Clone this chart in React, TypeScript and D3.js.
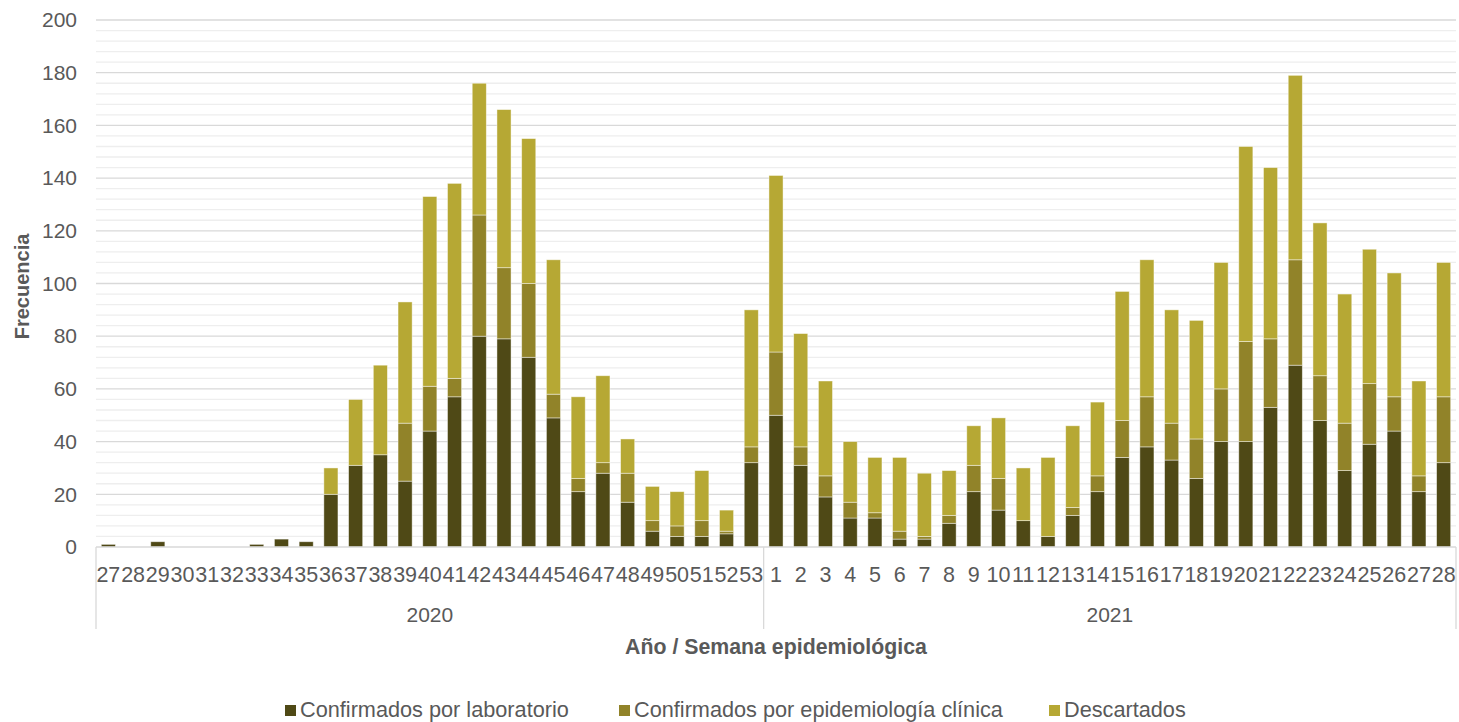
import * as d3 from "d3";
import React, { useEffect, useRef } from "react";

const weeks2020 = ["27", "28", "29", "30", "31", "32", "33", "34", "35", "36", "37", "38", "39", "40", "41", "42", "43", "44", "45", "46", "47", "48", "49", "50", "51", "52", "53"];
const weeks2021 = ["1", "2", "3", "4", "5", "6", "7", "8", "9", "10", "11", "12", "13", "14", "15", "16", "17", "18", "19", "20", "21", "22", "23", "24", "25", "26", "27", "28"];
const years = ["2020", "2021"];

// confirmados por laboratorio
const laboratorio = [
  1, 0, 2, 0, 0, 0, 1, 3, 2, 20, 31, 35, 25, 44, 57, 80, 79, 72, 49, 21, 28, 17, 6, 4, 4, 5, 32,
  50, 31, 19, 11, 11, 3, 3, 9, 21, 14, 10, 4, 12, 21, 34, 38, 33, 26, 40, 40, 53, 69, 48, 29, 39, 44, 21, 32,
];
// confirmados por epidemiologia clinica
const epidemiologia = [
  0, 0, 0, 0, 0, 0, 0, 0, 0, 0, 0, 0, 22, 17, 7, 46, 27, 28, 9, 5, 4, 11, 4, 4, 6, 1, 6,
  24, 7, 8, 6, 2, 3, 1, 3, 10, 12, 0, 0, 3, 6, 14, 19, 14, 15, 20, 38, 26, 40, 17, 18, 23, 13, 6, 25,
];
const descartados = [
  0, 0, 0, 0, 0, 0, 0, 0, 0, 10, 25, 34, 46, 72, 74, 50, 60, 55, 51, 31, 33, 13, 13, 13, 19, 8, 52,
  67, 43, 36, 23, 21, 28, 24, 17, 15, 23, 20, 30, 31, 28, 49, 52, 43, 45, 48, 74, 65, 70, 58, 49, 51, 47, 36, 51,
];

const seriesNames = ["Confirmados por laboratorio", "Confirmados por epidemiología clínica", "Descartados"];
const seriesColors = ["#4f4916", "#918329", "#b6a834"];

export default function App() {
  const ref = useRef<SVGSVGElement>(null);

  useEffect(() => {
    const width = 1459;
    const height = 722;
    const margin = { top: 20, right: 3, bottom: 175, left: 96 };
    const textColor = "#595959";
    const font = "'Liberation Sans', Arial, sans-serif";

    const svg = d3.select(ref.current);
    svg.selectAll("*").remove();

    const cats = [
      ...weeks2020.map((w, i) => ({ year: "2020", week: w, i })),
      ...weeks2021.map((w, i) => ({ year: "2021", week: w, i: i + weeks2020.length })),
    ];
    const rows = cats.map((c) => ({
      key: c.year + "-" + c.week,
      lab: laboratorio[c.i],
      epi: epidemiologia[c.i],
      desc: descartados[c.i],
    }));

    const x = d3.scaleBand()
      .domain(rows.map((d) => d.key))
      .range([margin.left, width - margin.right])
      .paddingInner(0.43)
      .paddingOuter(0.215);

    const y = d3.scaleLinear()
      .domain([0, 200])
      .range([height - margin.bottom, margin.top]);

    // grid
    const grid = svg.append("g");
    grid.selectAll("line.minor")
      .data(d3.range(0, 201, 4).filter((v) => v % 20 !== 0))
      .join("line")
      .attr("x1", margin.left)
      .attr("x2", width - margin.right)
      .attr("y1", (d) => y(d))
      .attr("y2", (d) => y(d))
      .attr("stroke", "#eeeeee")
      .attr("stroke-width", 1.3);
    grid.selectAll("line.major")
      .data(d3.range(20, 201, 20))
      .join("line")
      .attr("x1", margin.left)
      .attr("x2", width - margin.right)
      .attr("y1", (d) => y(d))
      .attr("y2", (d) => y(d))
      .attr("stroke", "#d9d9d9")
      .attr("stroke-width", 1.3);

    // y axis labels
    const yAxis = svg.append("g")
      .attr("transform", `translate(${margin.left - 19},0)`)
      .call(d3.axisLeft(y).tickValues(d3.range(0, 201, 20)).tickSize(0).tickPadding(0))
      .call((g) => g.select(".domain").remove());
    yAxis.selectAll("text")
      .attr("fill", textColor)
      .style("font-family", font)
      .style("font-size", "21px");

    // stacked bars
    const stack = d3.stack<any>().keys(["lab", "epi", "desc"])(rows);
    svg.append("g")
      .selectAll("g")
      .data(stack)
      .join("g")
      .attr("fill", (_, i) => seriesColors[i])
      .selectAll("rect")
      .data((s) => s.filter((d) => d[1] - d[0] > 0))
      .join("rect")
      .attr("x", (d) => x(d.data.key)!)
      .attr("width", x.bandwidth())
      .attr("y", (d) => y(d[1]))
      .attr("height", (d) => y(d[0]) - y(d[1]))
      .attr("stroke", "#ffffff")
      .attr("stroke-opacity", 0.55)
      .attr("stroke-width", 0.8);

    // x axis line
    const y0 = y(0);
    svg.append("line")
      .attr("x1", margin.left)
      .attr("x2", width - margin.right)
      .attr("y1", y0)
      .attr("y2", y0)
      .attr("stroke", "#d9d9d9")
      .attr("stroke-width", 1.3);

    // category group separators
    const firstOf2021 = x(rows[weeks2020.length].key)! - (x.step() - x.bandwidth()) / 2;
    const separators = [margin.left, firstOf2021, width - margin.right];
    svg.append("g")
      .selectAll("line")
      .data(separators)
      .join("line")
      .attr("x1", (d) => d)
      .attr("x2", (d) => d)
      .attr("y1", y0)
      .attr("y2", y0 + 82)
      .attr("stroke", "#d9d9d9")
      .attr("stroke-width", 1.3);

    // week labels
    svg.append("g")
      .selectAll("text")
      .data(cats)
      .join("text")
      .attr("x", (d) => x(d.year + "-" + d.week)! + x.bandwidth() / 2)
      .attr("y", y0 + 35)
      .attr("text-anchor", "middle")
      .attr("fill", textColor)
      .style("font-family", font)
      .style("font-size", "21.5px")
      .text((d) => d.week);

    // year labels
    const yearBounds = [
      [separators[0], separators[1]],
      [separators[1], separators[2]],
    ];
    svg.append("g")
      .selectAll("text")
      .data(years)
      .join("text")
      .attr("x", (_, i) => (yearBounds[i][0] + yearBounds[i][1]) / 2)
      .attr("y", y0 + 75)
      .attr("text-anchor", "middle")
      .attr("fill", textColor)
      .style("font-family", font)
      .style("font-size", "21px")
      .text((d) => d);

    // axis titles
    svg.append("text")
      .attr("x", 776)
      .attr("y", 654)
      .attr("text-anchor", "middle")
      .attr("fill", textColor)
      .style("font-family", font)
      .style("font-size", "21.3px")
      .style("font-weight", "bold")
      .text("Año / Semana epidemiológica");

    svg.append("text")
      .attr("transform", `translate(29,${(y(0) + y(200)) / 2 + 3}) rotate(-90)`)
      .attr("text-anchor", "middle")
      .attr("fill", textColor)
      .style("font-family", font)
      .style("font-size", "20px")
      .style("font-weight", "bold")
      .text("Frecuencia");

    // legend
    const legendX = [285, 619, 1049];
    const legend = svg.append("g")
      .selectAll("g")
      .data(seriesNames)
      .join("g")
      .attr("transform", (_, i) => `translate(${legendX[i]},${709})`);
    legend.append("rect")
      .attr("x", 0)
      .attr("y", -4)
      .attr("width", 11)
      .attr("height", 11)
      .attr("fill", (_, i) => seriesColors[i]);
    legend.append("text")
      .attr("x", 15)
      .attr("y", 8)
      .attr("fill", textColor)
      .style("font-family", font)
      .style("font-size", "21.7px")
      .text((d) => d);
  }, []);

  return (
    <svg
      ref={ref}
      width={1459}
      height={722}
      style={{ position: "absolute", left: 0, top: 0, background: "#fff" }}
    />
  );
}
